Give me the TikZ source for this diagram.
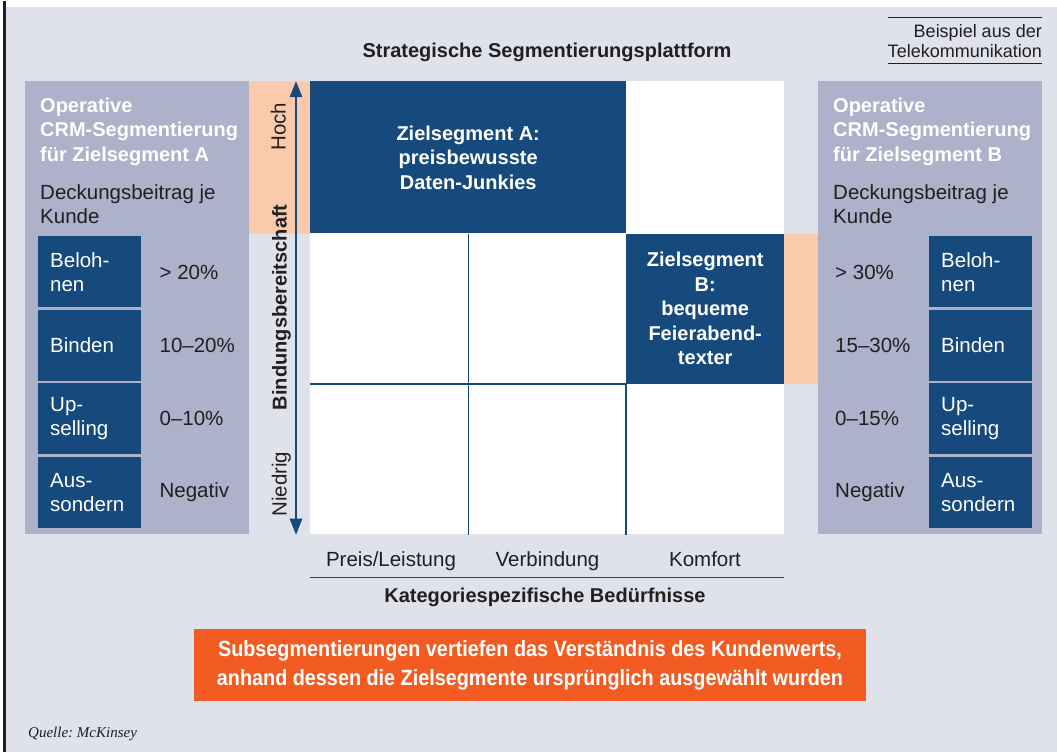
\documentclass[tikz,border=0pt]{standalone}
\usepackage{fontspec}
\setmainfont{Liberation Sans}
\newfontfamily\quellefont{Liberation Serif}
\newfontfamily\schmalfont{Liberation Sans}[FakeStretch=0.9]
\usetikzlibrary{arrows.meta,positioning}
\definecolor{hgrau}{RGB}{223,226,234}
\definecolor{pgrau}{RGB}{173,177,201}
\definecolor{segblau}{RGB}{22,74,124}
\definecolor{pfirsich}{RGB}{250,202,172}
\definecolor{signal}{RGB}{242,92,35}
\definecolor{tinte}{RGB}{35,31,32}
\frenchspacing

\begin{document}
\begin{tikzpicture}[x=1pt,y=-1pt,text=tinte,font=\fontsize{20.5}{24}\selectfont,
    every node/.style={inner sep=0pt},
    fett/.style={font=\fontsize{20}{24.5}\selectfont\bfseries},
    panel/.style={fill=pgrau,minimum width=224pt,minimum height=453pt,anchor=north west},
    ptitel/.style={fett,anchor=north west,align=left,text=white},
    aktion/.style={fill=segblau,text=white,align=left,text width=79pt,inner xsep=12pt,
      minimum height=71pt},
    wert/.style={anchor=west},
    seg/.style={fett,fill=segblau,text=white,align=center},
    gitter/.style={draw=segblau,line width=1.3pt},
    achse/.style={draw=segblau,line width=1.3pt,{Triangle[length=16pt,width=12.5pt]}-{Triangle[length=16pt,width=12.5pt]}}]
  % frame
  \fill[white] (0,0) rectangle (1057,751);
  \fill[hgrau] (6,6) rectangle (1057,751);
  \draw[line width=2.5pt,tinte] (4.7,0) -- (4.7,751);

  \node[fett,anchor=base] (titel) at (547,56) {Strategische Segmentierungsplattform};
  \node[anchor=north east,align=right,minimum height=46.3pt,font=\fontsize{18}{20}\selectfont] (bsp) at (1042,16) {Beispiel aus der\\Telekommunikation};
  \draw[tinte,line width=1pt] (bsp.north west) -- (bsp.north east);
  \draw[tinte,line width=1pt] (bsp.south west) -- (bsp.south east);

  % segment field
  \node[fill=white,minimum width=474pt,minimum height=453pt,anchor=north west] (feld) at (310,80) {};
  \node[seg,minimum width=316pt,minimum height=152pt,anchor=north west] (segA) at (feld.north west) {Zielsegment A:\\preisbewusste\\Daten-Junkies};
  \node[seg,minimum width=158pt,minimum height=150pt,anchor=north east] (segB) at (feld.east |- segA.south) {Zielsegment\\B:\\bequeme\\Feierabend-\\texter};
  \draw[gitter] (segA.south) -- (segA.south |- feld.south);
  \draw[gitter] (feld.west |- segB.south) -- (segB.south west) -- (segB.south west |- feld.south);

  % operative panels
  \node[panel] (opA) at (25,80) {};
  \node[panel] (opB) at (818,80) {};
  \fill[pfirsich] (opA.north east) rectangle (segA.south west);
  \fill[pfirsich] (segB.north east) rectangle (opB.west |- segB.south);

  \node[ptitel] (titA) at (40,96.5) {Operative\\CRM-Segmentierung\\für Zielsegment A};
  \node[anchor=north west,align=left] (dbA) at (40,183) {Deckungsbeitrag je\\Kunde};
  \node[aktion,anchor=north west] (belA) at (38,235) {Beloh-\\nen};
  \node[aktion,below=2pt of belA] (binA) {Binden};
  \node[aktion,below=2pt of binA] (upA) {Up-\\selling};
  \node[aktion,below=2pt of upA] (ausA) {Aus-\\sondern};
  \node[wert,right=18pt of belA] (wbelA) {> 20\%};
  \node[wert,right=18pt of binA] (wbinA) {10–20\%};
  \node[wert,right=18pt of upA] (wupA) {0–10\%};
  \node[wert,right=18pt of ausA] (wausA) {Negativ};

  \node[ptitel] (titB) at (833,96.5) {Operative\\CRM-Segmentierung\\für Zielsegment B};
  \node[anchor=north west,align=left] (dbB) at (833,183) {Deckungsbeitrag je\\Kunde};
  \node[aktion,anchor=north west] (belB) at (929,235) {Beloh-\\nen};
  \node[aktion,below=2pt of belB] (binB) {Binden};
  \node[aktion,below=2pt of binB] (upB) {Up-\\selling};
  \node[aktion,below=2pt of upB] (ausB) {Aus-\\sondern};
  \node[wert] (wbelB) at ([xshift=17pt]opB.west |- belB.west) {> 30\%};
  \node[wert] (wbinB) at ([xshift=17pt]opB.west |- binB.west) {15–30\%};
  \node[wert] (wupB) at ([xshift=17pt]opB.west |- upB.west) {0–15\%};
  \node[wert] (wausB) at ([xshift=17pt]opB.west |- ausB.west) {Negativ};

  % vertical axis
  \coordinate (hoch) at ([xshift=-14pt]feld.north west);
  \coordinate (niedrig) at ([xshift=-14pt]feld.south west);
  \draw[achse] (niedrig) -- (hoch);
  \node[rotate=90,anchor=base] (lhoch) at (285.5,125.5) {Hoch};
  \node[fett,rotate=90,anchor=base] (lbind) at (286.7,306) {Bindungsbereitschaft};
  \node[rotate=90,anchor=base] (lnied) at (286.7,483) {Niedrig};

  % horizontal axis
  \node[anchor=base] (kpreis) at (391,565) {Preis/Leistung};
  \node[anchor=base] (kverb) at (547.5,565) {Verbindung};
  \node[anchor=base] (kkomf) at (705,565) {Komfort};
  \draw[gitter,line width=1pt] ([yshift=-43pt]feld.south west) -- ([yshift=-43pt]feld.south east);
  \node[fett,anchor=base] (kbed) at (545,601.5) {Kategoriespezifische Bedürfnisse};

  \node[fill=signal,text=white,minimum width=672pt,minimum height=72pt,align=center,
    font=\schmalfont\fontsize{22}{29}\selectfont\bfseries] (fazit) at (530,664)
    {Subsegmentierungen vertiefen das Verständnis des Kundenwerts,\\anhand dessen die Zielsegmente ursprünglich ausgewählt wurden};

  \node[anchor=base west,font=\quellefont\itshape\fontsize{15}{18}\selectfont] (quelle) at (28,736.7) {Quelle: McKinsey};
\end{tikzpicture}
\end{document}
